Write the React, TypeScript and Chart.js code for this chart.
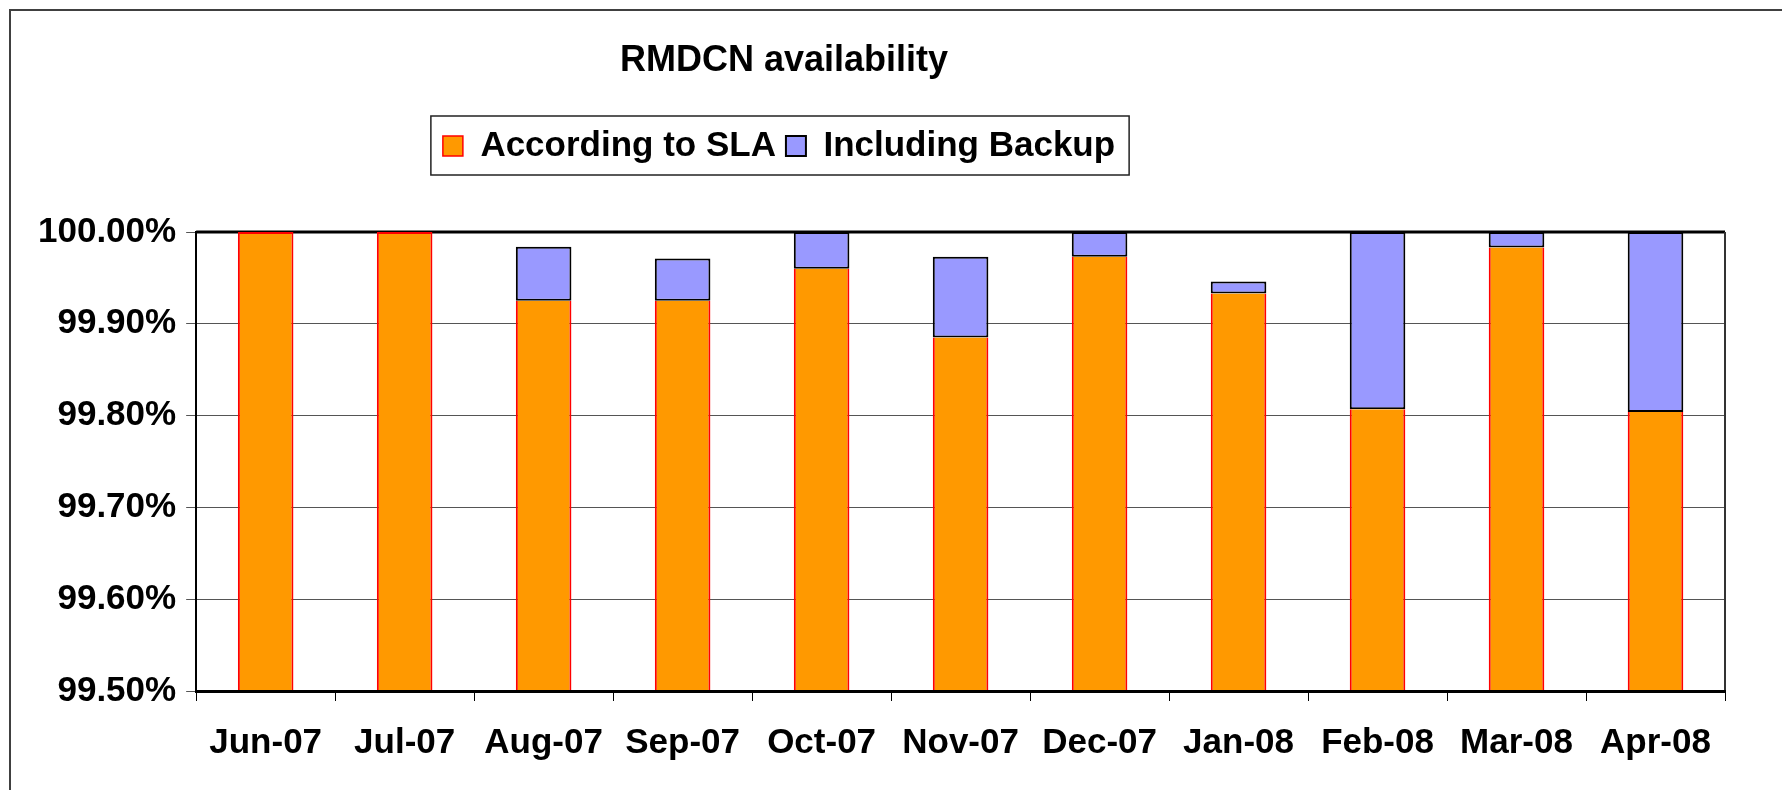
import React, { useEffect, useRef } from 'react';
import { Chart, registerables } from 'chart.js';

Chart.register(...registerables);

// ---------- data ----------
const chartTitle = 'RMDCN availability';
const seriesNames = ['According to SLA', 'Including Backup'];
const categories = ['Jun-07', 'Jul-07', 'Aug-07', 'Sep-07', 'Oct-07', 'Nov-07', 'Dec-07', 'Jan-08', 'Feb-08', 'Mar-08', 'Apr-08'];
const accordingToSLA = [100, 100, 99.925, 99.925, 99.96, 99.885, 99.973, 99.933, 99.807, 99.983, 99.804];
const includingBackup = [100, 100, 99.984, 99.971, 100, 99.973, 100, 99.946, 100, 100, 100];
const yMin = 99.5;
const yMax = 100;
const yStep = 0.1;

// ---------- styles ----------
const FONT = '"Liberation Sans", Arial, Helvetica, sans-serif';
const ORANGE = '#FF9900';
const RED = '#FF0000';
const BLUE = '#9999FF';

const W = 1782;
const H = 790;

const placeBlocks = {
  id: 'placeBlocks',
  afterLayout(chart: any) {
    const t = chart.titleBlock;
    if (t) {
      const dx = 784 - (t.left + t.right) / 2;
      t.left += dx;
      t.right += dx;
    }
    const l = chart.legend;
    if (l) {
      const dx = 779 - (l.left + l.right) / 2;
      l.left += dx;
      l.right += dx;
      const h = l.bottom - l.top;
      l.top = 118.5;
      l.bottom = 118.5 + h;
    }
  },
};

const framePlugin = {
  id: 'frame',
  beforeDraw(chart: any) {
    const ctx = chart.ctx;
    ctx.save();
    ctx.strokeStyle = '#404040';
    ctx.lineWidth = 2;
    ctx.beginPath();
    ctx.moveTo(10, chart.height);
    ctx.lineTo(10, 10);
    ctx.lineTo(chart.width, 10);
    ctx.stroke();
    ctx.restore();
  },
  beforeDatasetsDraw(chart: any) {
    const { ctx, chartArea: a } = chart;
    ctx.save();
    ctx.strokeStyle = '#000';
    ctx.lineWidth = 3;
    ctx.beginPath();
    ctx.moveTo(a.left, a.top);
    ctx.lineTo(a.right, a.top);
    ctx.stroke();
    ctx.strokeStyle = '#333';
    ctx.lineWidth = 2;
    ctx.beginPath();
    ctx.moveTo(a.right, a.top);
    ctx.lineTo(a.right, a.bottom);
    ctx.stroke();
    ctx.restore();
  },
  afterDraw(chart: any) {
    const l = chart.legend;
    const hb = l && l.legendHitBoxes;
    if (!hb || !hb.length) return;
    const ctx = chart.ctx;
    const first = hb[0];
    const last = hb[hb.length - 1];
    const x0 = first.left - 12;
    const x1 = last.left + last.width + 14;
    const cy = first.top + first.height / 2;
    ctx.save();
    ctx.strokeStyle = '#222';
    ctx.lineWidth = 1.5;
    ctx.strokeRect(x0, cy - 30, x1 - x0, 59);
    ctx.restore();
  },
};

export default function App() {
  const ref = useRef<HTMLCanvasElement | null>(null);

  useEffect(() => {
    document.body.style.margin = '0';
    const canvas = ref.current;
    if (!canvas) return;

    const chart = new Chart(canvas, {
      type: 'bar',
      data: {
        labels: categories,
        datasets: [
          {
            label: seriesNames[0],
            data: accordingToSLA.map((v) => [yMin, v]) as any,
            backgroundColor: ORANGE,
            borderColor: RED,
            borderWidth: ((c: any) => {
              if (c.type !== 'data') return 2;
              const i = c.dataIndex;
              return { top: includingBackup[i] > accordingToSLA[i] ? 0 : 2, left: 2, right: 2, bottom: 0 };
            }) as any,
            borderSkipped: false,
            grouped: false,
            barPercentage: 0.4,
            categoryPercentage: 1,
          },
          {
            label: seriesNames[1],
            data: accordingToSLA.map((v, i) => [v, includingBackup[i]]) as any,
            backgroundColor: BLUE,
            borderColor: '#000',
            borderWidth: 2,
            borderSkipped: false,
            grouped: false,
            barPercentage: 0.4,
            categoryPercentage: 1,
          },
        ],
      },
      options: {
        responsive: false,
        animation: false,
        devicePixelRatio: 1,
        layout: { padding: { top: 0, left: 28, right: 57, bottom: 5 } },
        plugins: {
          title: {
            display: true,
            text: chartTitle,
            color: '#000',
            font: { family: FONT, size: 36, weight: 'bold' },
            padding: { top: 39, bottom: 94.8 },
          },
          legend: {
            display: true,
            position: 'top',
            labels: {
              color: '#000',
              font: { family: FONT, size: 35, weight: 'bold' },
              boxWidth: 20,
              boxHeight: 20,
              padding: 10,
            },
          },
          tooltip: { enabled: false },
        },
        scales: {
          x: {
            type: 'category',
            offset: true,
            grid: {
              display: true,
              drawOnChartArea: false,
              drawTicks: true,
              tickLength: 10,
              offset: true,
              color: '#000',
              lineWidth: 1,
            },
            border: { display: true, color: '#000', width: 3, z: 1 },
            ticks: {
              color: '#000',
              font: { family: FONT, size: 35, weight: 'bold' },
              padding: 21,
              maxRotation: 0,
              autoSkip: false,
            },
          },
          y: {
            type: 'linear',
            min: yMin,
            max: yMax,
            grid: { color: '#555', lineWidth: 1, drawTicks: true, tickLength: 10 },
            border: { display: true, color: '#000', width: 2 },
            ticks: {
              stepSize: yStep,
              color: '#000',
              font: { family: FONT, size: 35, weight: 'bold' },
              padding: 10,
              callback: (v: any) => Number(v).toFixed(2) + '%',
            },
          },
        },
      },
      plugins: [placeBlocks, framePlugin],
    } as any);

    return () => chart.destroy();
  }, []);

  return (
    <div style={{ width: W, height: H, background: '#fff' }}>
      <canvas ref={ref} width={W} height={H} style={{ display: 'block' }} />
    </div>
  );
}
